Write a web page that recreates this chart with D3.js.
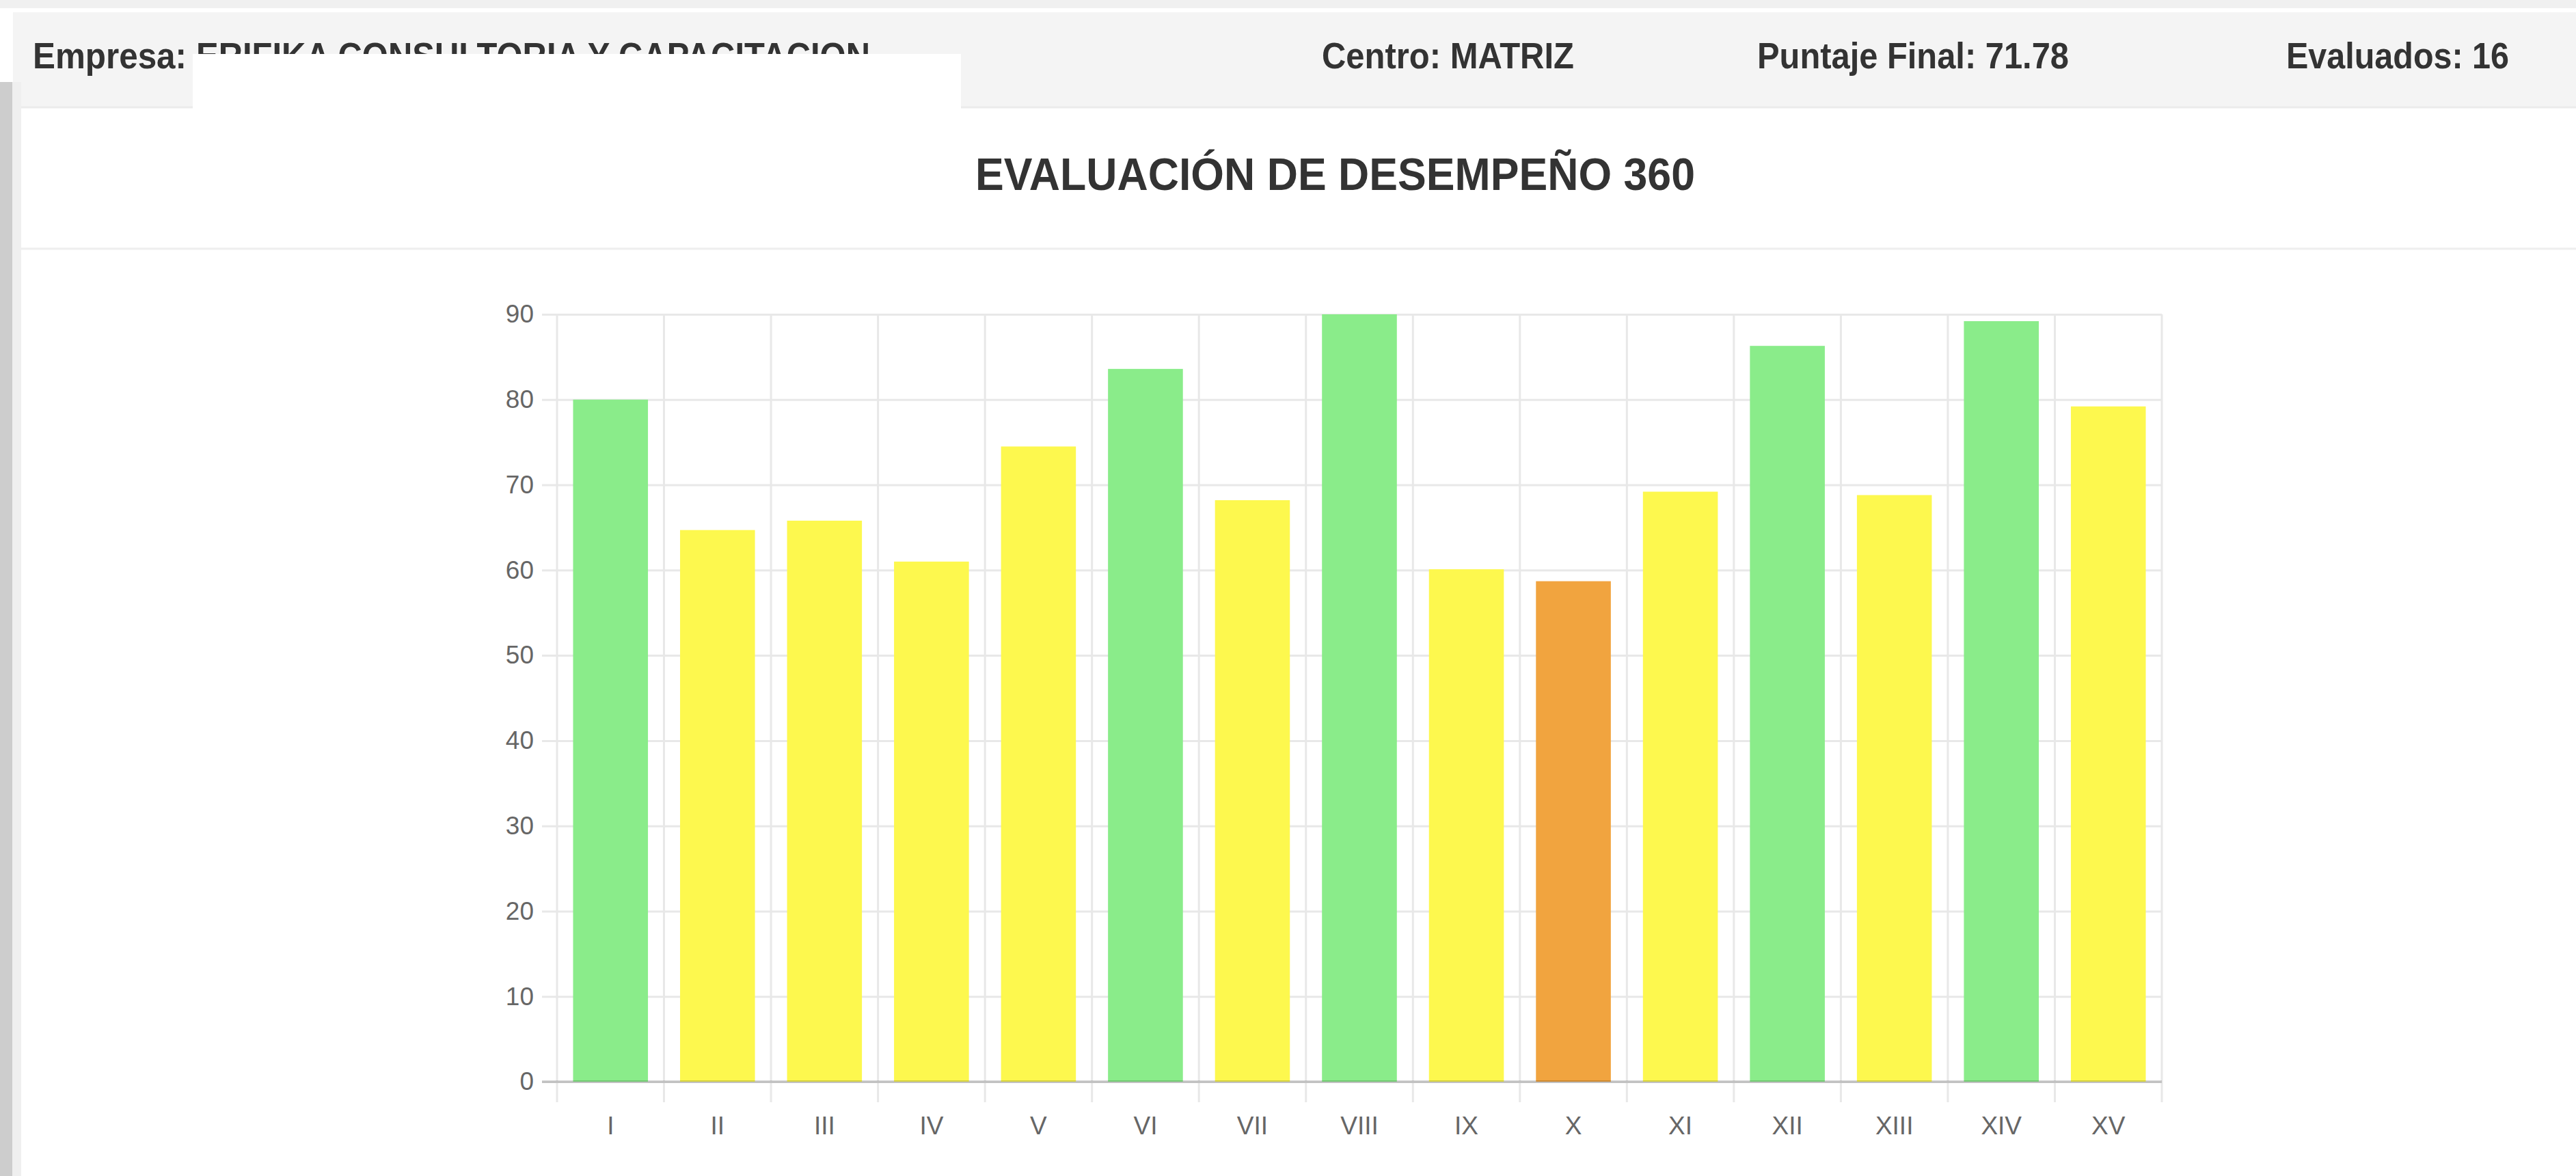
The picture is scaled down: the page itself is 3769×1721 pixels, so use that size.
<!DOCTYPE html>
<html>
<head>
  <meta charset="utf-8" />
  <title>Evaluación de desempeño 360</title>
  <script src="https://cdn.jsdelivr.net/npm/d3@7"></script>
  <style>
    body { margin: 0; background: #fff; }
    svg { display: block; font-family: "Liberation Sans", Arial, Helvetica, sans-serif; }
  </style>
</head>
<body>
<div id="vis"></div>
<script>
// datos
var categorias = ["I","II","III","IV","V","VI","VII","VIII","IX","X","XI","XII","XIII","XIV","XV"];
var puntajes = [80.0, 64.7, 65.8, 61.0, 74.5, 83.6, 68.2, 90.0, 60.1, 58.7, 69.2, 86.3, 68.8, 89.2, 79.2];
var yTicks = [0, 10, 20, 30, 40, 50, 60, 70, 80, 90];
var cabecera = [
  { txt: "Empresa:", x: 48, w: 225 },
  { txt: "Centro: MATRIZ", x: 1934, w: 369 },
  { txt: "Puntaje Final: 71.78", x: 2571, w: 456 },
  { txt: "Evaluados: 16", x: 3345, w: 326 }
];
var empresa = "ERIFIKA CONSULTORIA Y CAPACITACION";
var titulo = "EVALUACIÓN DE DESEMPEÑO 360";

var W = 3769, H = 1721;
var plotL = 815, plotR = 3163, plotT = 460, plotB = 1583;

function colorDe(v) {
  if (v >= 80) return "#8aec8a";
  if (v >= 60) return "#fdf84e";
  return "#f1a43f";
}

var svg = d3.select("#vis").append("svg")
  .attr("width", W)
  .attr("height", H);

svg.append("rect").attr("width", W).attr("height", H).attr("fill", "#fff");

// barra superior y borde izquierdo (captura)
svg.append("rect").attr("x", 0).attr("y", 0).attr("width", W).attr("height", 12).attr("fill", "#f0f0f0");
svg.append("rect").attr("x", 19).attr("y", 18).attr("width", W - 19).attr("height", 139)
  .attr("fill", "#f4f4f4");
svg.append("line").attr("x1", 19).attr("x2", W).attr("y1", 157).attr("y2", 157)
  .attr("stroke", "#ebebeb").attr("stroke-width", 3);
svg.append("rect").attr("x", 0).attr("y", 120).attr("width", 18).attr("height", H - 120).attr("fill", "#cdcdcd");
svg.append("rect").attr("x", 18).attr("y", 120).attr("width", 13).attr("height", H - 120).attr("fill", "#efefef");

// textos de cabecera
svg.append("text")
  .attr("x", 287).attr("y", 100)
  .attr("textLength", 986).attr("lengthAdjust", "spacingAndGlyphs")
  .attr("font-size", 53).attr("font-weight", "bold").attr("fill", "#333")
  .text(empresa);
// tapa blanca sobre el nombre
svg.append("rect").attr("x", 282).attr("y", 79).attr("width", 1124).attr("height", 84).attr("fill", "#fff");

svg.selectAll("text.cab")
  .data(cabecera)
  .enter()
  .append("text")
  .attr("class", "cab")
  .attr("x", function(d) { return d.x; })
  .attr("y", 100)
  .attr("textLength", function(d) { return d.w; })
  .attr("lengthAdjust", "spacingAndGlyphs")
  .attr("font-size", 53)
  .attr("font-weight", "bold")
  .attr("fill", "#333")
  .text(function(d) { return d.txt; });

// titulo
svg.append("text")
  .attr("x", 1427).attr("y", 278)
  .attr("textLength", 1053).attr("lengthAdjust", "spacingAndGlyphs")
  .attr("font-size", 66).attr("font-weight", "bold").attr("fill", "#333")
  .text(titulo);
svg.append("line").attr("x1", 31).attr("x2", W).attr("y1", 364).attr("y2", 364)
  .attr("stroke", "#eeeeee").attr("stroke-width", 3);

// escalas
var x = d3.scaleBand().domain(categorias).range([plotL, plotR]).padding(0);
var y = d3.scaleLinear().domain([0, 90]).range([plotB, plotT]);
var bw = x.bandwidth();

// grilla vertical (bordes de categoria)
var bordes = categorias.map(function(c) { return x(c); }).concat([plotR]);
svg.selectAll("line.vgrid")
  .data(bordes)
  .enter()
  .append("line")
  .attr("class", "vgrid")
  .attr("x1", function(d) { return d; })
  .attr("x2", function(d) { return d; })
  .attr("y1", plotT)
  .attr("y2", plotB + 30)
  .attr("stroke", "#e8e8e8")
  .attr("stroke-width", 3);

// eje y con grilla horizontal
var yAxis = d3.axisLeft(y)
  .tickValues(yTicks)
  .tickSize(-(plotR - plotL + 22))
  .tickPadding(12);
var gy = svg.append("g")
  .attr("transform", "translate(" + (plotL - 22) + ",0)")
  .call(yAxis);
gy.select(".domain").remove();
gy.selectAll(".tick line").attr("stroke", "#e8e8e8").attr("stroke-width", 3);
gy.selectAll(".tick text")
  .attr("font-size", 37)
  .attr("fill", "#666")
  .attr("font-family", "'Liberation Sans', Arial, sans-serif");

// barras
svg.selectAll("rect.bar")
  .data(puntajes)
  .enter()
  .append("rect")
  .attr("class", "bar")
  .attr("x", function(d, i) { return x(categorias[i]) + bw * 0.15; })
  .attr("width", bw * 0.7)
  .attr("y", function(d) { return y(d); })
  .attr("height", function(d) { return plotB - y(d); })
  .attr("fill", function(d) { return colorDe(d); });

// linea cero
svg.append("line")
  .attr("x1", plotL - 22).attr("x2", plotR)
  .attr("y1", y(0)).attr("y2", y(0))
  .attr("stroke", "rgba(0,0,0,0.16)")
  .attr("stroke-width", 4);

// eje x
var xAxis = d3.axisBottom(x).tickSize(0).tickPadding(51);
var gx = svg.append("g")
  .attr("transform", "translate(0," + plotB + ")")
  .call(xAxis);
gx.select(".domain").remove();
gx.selectAll(".tick text")
  .attr("font-size", 37)
  .attr("fill", "#666")
  .attr("font-family", "'Liberation Sans Narrow', 'Liberation Sans', Arial, sans-serif");
</script>
</body>
</html>
